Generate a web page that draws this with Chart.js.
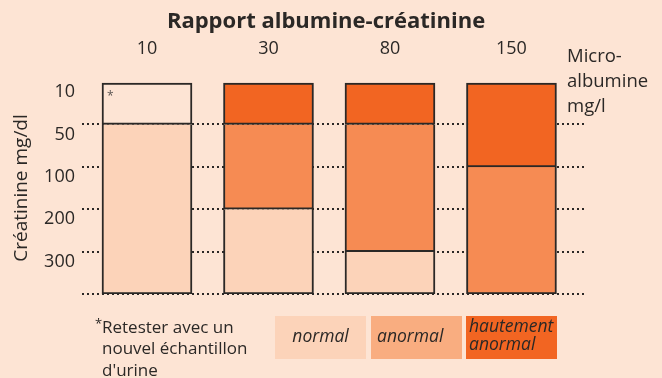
<!DOCTYPE html>
<html lang="fr">
<head>
<meta charset="utf-8">
<script src="https://cdn.jsdelivr.net/npm/chart.js@4"></script>
<style>
    html, body { margin: 0; padding: 0; background: #fde4d4; }
    #wrap { width: 662px; height: 378px; }
</style>
</head>
<body>
<div id="wrap"><canvas id="ratioChart" width="662" height="378"></canvas></div>
<script>
// Micro-albumine (mg/l) : une colonne par valeur
const albumine = ['10', '30', '80', '150'];
// Créatinine (mg/dl) : une bande par valeur, de haut en bas
const creatinine = ['10', '50', '100', '200', '300'];

// nombre de bandes de chaque classe par colonne (empilées du haut vers le bas)
const retester = [1, null, null, null];
const hautementAnormal = [null, 1, 1, 2];
const anormal = [null, 2, 3, 3];
const normal = [4, 2, 1, null];

const titleText = 'Rapport albumine-créatinine';
const legendLabels = ['normal', 'anormal', 'hautement anormal'];
const footnoteLines = ['Retester avec un', 'nouvel échantillon', "d'urine"];
const axisNoteLines = ['Micro-', 'albumine', 'mg/l'];

const BG = '#fde4d4';
const INK = '#2b2826';
const C_NORMAL = '#fcd3b9';
const C_ANORMAL = '#f68b53';
const C_HAUT = '#f26522';
const legendColors = [C_NORMAL, '#f9ad80', C_HAUT];
const FONT = "'Open Sans', sans-serif";

Chart.defaults.font.family = FONT;
Chart.defaults.color = INK;

const toPoints = arr => arr.map((v, i) => ({ x: i, y: v }));

// un segment est "en tête" si rien n'est empilé au-dessus dans sa colonne
function isTopSegment(ctx) {
    const sets = ctx.chart.data.datasets;
    for (let d = 0; d < ctx.datasetIndex; d++) {
        if (sets[d].data[ctx.dataIndex].y) return false;
    }
    return true;
}

function segment(label, values, color) {
    return {
        label: label,
        data: toPoints(values),
        backgroundColor: color,
        borderColor: INK,
        borderWidth: 2,
        borderSkipped: ctx => isTopSegment(ctx) ? false : 'start',
        barThickness: 90
    };
}

// texte hors axes : titre, note de l'axe, astérisque, renvoi et légende
const annotations = {
    id: 'annotations',
    afterDraw(chart) {
        const ctx = chart.ctx;
        ctx.save();
        ctx.fillStyle = INK;
        ctx.textBaseline = 'middle';

        ctx.textAlign = 'center';
        ctx.font = 'bold 22px ' + FONT;
        ctx.fillText(titleText, 326, 22);

        ctx.textAlign = 'left';
        ctx.font = '18.5px ' + FONT;
        axisNoteLines.forEach((t, i) => ctx.fillText(t, 567, 57 + i * 25));

        // astérisque dans la case "à retester"
        const bar = chart.getDatasetMeta(0).data[0];
        ctx.fillStyle = '#5a5452';
        ctx.font = '12px ' + FONT;
        ctx.fillText('*', bar.x - bar.width / 2 + 5, Math.min(bar.y, bar.base) + 14);

        ctx.fillStyle = INK;
        ctx.font = '13px ' + FONT;
        ctx.fillText('*', 95, 324);
        ctx.font = '17px ' + FONT;
        footnoteLines.forEach((t, i) => ctx.fillText(t, 102, 328 + i * 21.5));

        // légende
        const boxX = [275, 371, 466];
        const boxW = 91, boxY = 316, boxH = 43;
        legendLabels.forEach((label, i) => {
            ctx.fillStyle = legendColors[i];
            ctx.fillRect(boxX[i], boxY, boxW, boxH);
            ctx.fillStyle = INK;
            ctx.font = 'italic 17.5px ' + FONT;
            const words = label.split(' ');
            if (words.length > 1) {
                ctx.textAlign = 'left';
                words.forEach((w, j) => ctx.fillText(w, boxX[i] + 3, 327 + j * 18));
            } else if (i === 0) {
                ctx.textAlign = 'center';
                ctx.fillText(label, boxX[i] + boxW / 2, 337);
            } else {
                ctx.textAlign = 'left';
                ctx.fillText(label, boxX[i] + 6, 337);
            }
        });
        ctx.restore();
    }
};

new Chart(document.getElementById('ratioChart'), {
    type: 'bar',
    data: {
        datasets: [
            segment('retester', retester, BG),
            segment('hautement anormal', hautementAnormal, C_HAUT),
            segment('anormal', anormal, C_ANORMAL),
            segment('normal', normal, C_NORMAL)
        ]
    },
    options: {
        responsive: false,
        animation: false,
        layout: {
            padding: { left: 0, right: 78, top: 0, bottom: 84 }
        },
        plugins: {
            legend: { display: false },
            tooltip: { enabled: false }
        },
        scales: {
            x: {
                type: 'linear',
                position: 'top',
                stacked: true,
                offset: false,
                min: -0.535,
                max: 3.597,
                grid: { display: false },
                border: { display: false },
                afterBuildTicks: scale => {
                    scale.ticks = albumine.map((_, i) => ({ value: i }));
                },
                afterFit: scale => { scale.height = 82; },
                ticks: {
                    padding: 14,
                    font: { size: 18 },
                    callback: v => albumine[v]
                }
            },
            y: {
                type: 'linear',
                stacked: true,
                reverse: true,
                min: 0,
                max: creatinine.length,
                afterBuildTicks: scale => {
                    scale.ticks = creatinine.map((_, i) => ({ value: i }))
                        .concat([{ value: creatinine.length }]);
                },
                afterFit: scale => { scale.width = 82; },
                grid: {
                    drawTicks: false,
                    lineWidth: 2,
                    color: ctx => ctx.tick && ctx.tick.value === 0 ? 'transparent' : INK
                },
                border: { display: false, dash: [2, 3] },
                ticks: {
                    padding: 7,
                    labelOffset: 10,
                    font: { size: 18 },
                    callback: v => creatinine[v] !== undefined ? creatinine[v] : ''
                },
                title: {
                    display: true,
                    text: 'Créatinine mg/dl',
                    font: { size: 19 },
                    padding: { top: 10.5, bottom: 0 }
                }
            }
        }
    },
    plugins: [annotations]
});
</script>
</body>
</html>
